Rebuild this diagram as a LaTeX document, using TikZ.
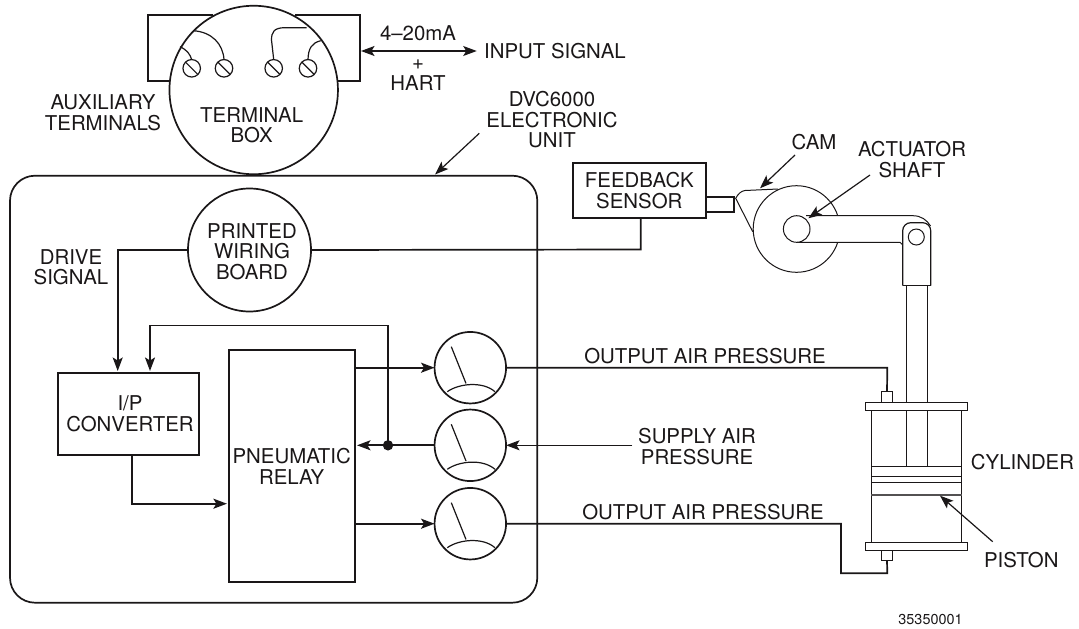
\documentclass[tikz,border=0pt]{standalone}
\usepackage{fontspec}
\setmainfont{TeX Gyre Heros}
\usetikzlibrary{arrows.meta,calc}
\definecolor{ink}{HTML}{1A1718}
\tikzset{
  line/.style={draw=ink,line width=1.7pt,line join=miter},
  thin line/.style={draw=ink,line width=1.2pt},
  fine line/.style={draw=ink,line width=1pt},
  arrowed/.style={line,-{Stealth[length=13.5pt,width=10pt,inset=3pt]}},
  thin arrowed/.style={thin line,-{Stealth[length=13.5pt,width=10pt,inset=3pt]}},
  label/.style={text=ink,font=\fontsize{20.4}{20.7}\selectfont,align=center,inner sep=0pt},
  box/.style={line,inner sep=0pt,outer sep=0pt,anchor=north west},
  finebox/.style={fine line,inner sep=0pt,outer sep=0pt,anchor=north west},
  round/.style={circle,line,inner sep=0pt,outer sep=0pt,fill=white},
  gauge/.style={round,minimum size=71.5pt},
  screw/.style={circle,thin line,inner sep=0pt,outer sep=0pt,minimum size=17.5pt},
}
\newcommand{\gaugemarks}[1]{%
  \draw[thin line] ($(#1)+(-19,-21)$) -- ($(#1)+(-4.3,15.7)$);
  \draw[thin line] ($(#1)+(-23,24)$) .. controls ($(#1)+(-12,16)$) and ($(#1)+(12,13)$) .. ($(#1)+(24.7,24)$);
}
\newcommand{\screwslash}[1]{\draw[thin line] (#1.north west) -- (#1.south east);}
\begin{document}
\begin{tikzpicture}[x=1pt,y=-1pt]
\useasboundingbox (0,0) rectangle (1079,629);
% auxiliary terminal brackets
\coordinate (auxtl) at (212.7,14.7);
\coordinate (auxbl) at (169.5,80.7);
\coordinate (auxtr) at (295,14.7);
\coordinate (auxbr) at (337.5,80.7);
\draw[line] (auxtl) -- (147.7,14.7) -- (147.7,80.7) -- (auxbl);
\draw[line] (auxtr) -- (360,14.7) -- (360,80.7) -- (auxbr);
% terminal box
\node[round,minimum size=168.5pt] (tbox) at (253.7,90) {};
\node[label] (tboxt) at (251.7,125.3) {TERMINAL\\BOX};
\node[screw] (s1) at (191.7,68.3) {};
\node[screw] (s2) at (224,68.3) {};
\node[screw] (s3) at (273.7,68.3) {};
\node[screw] (s4) at (308,68.3) {};
\screwslash{s1}\screwslash{s2}\screwslash{s3}\screwslash{s4}
\draw[thin line] (180,46.7) .. controls (187,50) and (190,54) .. (s1.north);
\draw[thin line] (193.3,30.7) .. controls (212,32) and (223,44) .. (s2.north);
\draw[thin line] (306.7,27.7) -- (285,27.7) .. controls (274,27.7) and (271.5,32) .. (271.5,40) -- (s3.north);
\draw[thin line] (320.7,40.7) .. controls (312,43) and (308.3,48) .. (s4.north);
% input signal
\node[label,anchor=west] (input) at (484,50.7) {INPUT SIGNAL};
\coordinate (inputend) at (476.7,51);
\coordinate (boxend) at (361,51);
\draw[thin line,{Stealth[length=13.5pt,width=10pt,inset=3pt]}-{Stealth[length=13.5pt,width=10pt,inset=3pt]}] (boxend) -- (inputend);
\node[label] (ma) at (418,33) {4–20mA};
\node[label] (plus) at (418,65) {+};
\node[label] (hart) at (418,83.3) {HART};
\node[label] (aux) at (103,112.7) {AUXILIARY\\TERMINALS};
\node[label] (dvc) at (552,119.8) {DVC6000\\ELECTRONIC\\UNIT};
% electronic unit
\node[box,rounded corners=25pt,minimum width=527.3pt,minimum height=427pt] (unit) at (10,175.7) {};
\coordinate (dvcs) at (479.3,133.3);
\coordinate (dvce) at (435,174.5);
\draw[thin arrowed] (dvcs) -- (dvce);
% pwb
\node[round,minimum size=123pt] (pwb) at (249.5,250) {};
\node[label] (pwbt) at (252,251.7) {PRINTED\\WIRING\\BOARD};
\node[label] (drive) at (71,267.2) {DRIVE\\SIGNAL};
% I/P converter
\node[box,minimum width=141pt,minimum height=81.4pt] (ip) at (58,373.3) {};
\node[label] (ipt) at (130,413.8) {I/P\\CONVERTER};
% relay
\node[box,minimum width=126.3pt,minimum height=231.7pt] (relay) at (228.7,350.3) {};
\node[label] (relayt) at (291.7,466.7) {PNEUMATIC\\RELAY};
% gauges
\node[gauge] (g1) at (470.3,367.7) {};
\node[gauge] (g2) at (470.3,445.3) {};
\node[gauge] (g3) at (470.3,523.7) {};
\gaugemarks{g1}\gaugemarks{g2}\gaugemarks{g3}
% internal connectors
\coordinate (j) at (388,445.3);
\coordinate (ipa) at (117.7,371);
\coordinate (ipb) at (150,371);
\coordinate (relayin) at (226.9,503.7);
\fill[ink] (j) circle (5.2pt);
\draw[arrowed] (pwb.west) -- (117.7,250) -- (ipa);
\draw[arrowed] (j) -- (388,325.5) -- (150,325.5) -- (ipb);
\draw[arrowed] (ip.south -| 131.7,0) -- (131.7,503.7) -- (relayin);
\draw[arrowed] (relay.east |- g1) -- (g1.west);
\draw[arrowed] (g2.west) -- ($(relay.east |- g2)+(2,0)$);
\draw[arrowed] (relay.east |- g3) -- (g3.west);
\coordinate (supply) at (632.3,445.3);
\draw[thin arrowed] (supply) -- (g2.east);
\node[label] (supplyt) at (697,446.7) {SUPPLY AIR\\PRESSURE};
% feedback sensor
\node[box,minimum width=133.5pt,minimum height=54.5pt] (fb) at (572.7,163.3) {};
\node[label] (fbt) at (639.3,190.9) {FEEDBACK\\SENSOR};
\draw[line] (640.7,217.7) -- (640.7,249.5) -- (pwb.east);
\node[box,minimum width=28pt,minimum height=15pt] (plug) at (706,196.7) {};
% cam
\draw[fine line,fill=white] (778,189) -- (745,190.5) .. controls (741,191) and (738,194) .. (735.7,198.3) -- (752.7,231.7);
\node[circle,fine line,fill=white,inner sep=0pt,outer sep=0pt,minimum size=86.6pt] (cam) at (796.5,229) {};
% lever
\fill[white] (796.5,216.2) rectangle (905,241.8);
\draw[fine line] (806,215.7) -- (913,215.7) .. controls (921,215.7) and (927,220) .. (930.5,226);
\draw[fine line] (796.7,242.3) -- (900,242.3) -- (902.7,245);
\node[circle,fine line,fill=white,inner sep=0pt,outer sep=0pt,minimum size=26.6pt] (hub) at (796.7,229) {};
\draw[thin line,fill=white,rounded corners=8pt] (902.7,285.7) -- (902.7,222.7) -- (930.7,222.7) -- (930.7,285.7);
\draw[thin line] (902.7,285.7) -- (930.7,285.7);
\node[circle,fine line,inner sep=0pt,outer sep=0pt,minimum size=16pt] (pin) at (916.3,237) {};
% labels with arrows
\node[label] (camt) at (814,141.7) {CAM};
\coordinate (cama) at (795,155);
\coordinate (camb) at (760,188.3);
\draw[thin arrowed] (cama) -- (camb);
\node[label] (shaft) at (912,159.8) {ACTUATOR\\SHAFT};
\coordinate (shafta) at (870,175);
\coordinate (shaftb) at (808.3,218.3);
\draw[thin arrowed] (shafta) -- (shaftb);
% cylinder
\draw[fine line] (906.3,285.7) -- (906.3,402.3);
\draw[fine line] (927,285.7) -- (927,402.3);
\node[finebox,minimum width=102pt,minimum height=8pt] (topfl) at (865.3,402.3) {};
\node[finebox,minimum width=102pt,minimum height=8pt] (botfl) at (865.3,542) {};
\node[finebox,minimum width=90.4pt,minimum height=131.7pt] (cyl) at (871.3,410.3) {};
\draw[fine line] (906.3,410.3) -- (906.3,466.3);
\draw[fine line] (927,410.3) -- (927,466.3);
\draw[fine line] (871.3,466.3) -- (961.7,466.3);
\draw[fine line] (871.3,476) -- (961.7,476);
\draw[fine line] (871.3,482.7) -- (961.7,482.7);
\draw[draw=ink!75,line width=1.6pt] (871.3,495) -- (961.7,495);
\node[finebox,minimum width=11.4pt,minimum height=10.6pt] (fit1) at (881.3,391.7) {};
\node[finebox,minimum width=11.4pt,minimum height=10.6pt] (fit2) at (881.3,550) {};
\draw[line] (g1.east) -- (887.3,367.7) -- (fit1.north);
\draw[line] (g3.east) -- (841,523.7) -- (841,573.3) -- (887.3,573.3) -- (fit2.south);
\node[label] (out1) at (705,356) {OUTPUT AIR PRESSURE};
\node[label] (out2) at (703,512.3) {OUTPUT AIR PRESSURE};
\node[label] (cylt) at (1022.5,461.7) {CYLINDER};
\node[label] (pist) at (1021.3,560) {PISTON};
\coordinate (pista) at (992.7,541.7);
\coordinate (pistb) at (940,495.7);
\draw[thin arrowed] (pista) -- (pistb);
\node[label,font=\fontsize{14.4}{16}\selectfont] (code) at (930.5,619) {35350001};
\end{tikzpicture}
\end{document}
